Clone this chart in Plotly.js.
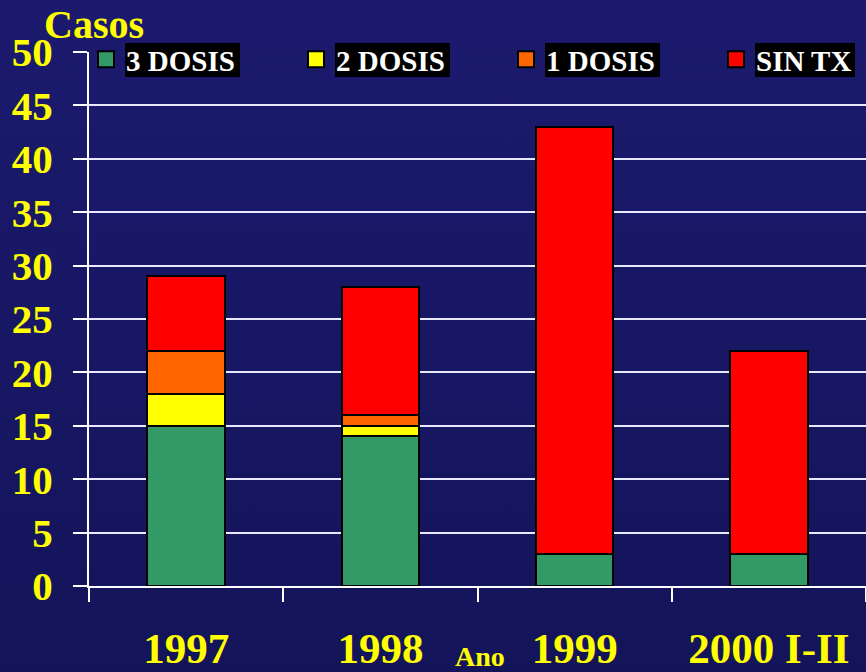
<!DOCTYPE html>
<html><head><meta charset="utf-8">
<script src="https://cdn.plot.ly/plotly-3.0.1.min.js"></script>
<style>
html,body{margin:0;padding:0;width:866px;height:672px;overflow:hidden;}
body{background:linear-gradient(to bottom,#1b1a6e,#14145a);}
#chart{width:866px;height:672px;}
</style></head><body><div id="chart"></div>
<script>
// ---- data ----
const categories = ['1997', '1998', '1999', '2000 I-II'];
const dosis3 = [15, 14, 3, 3];
const dosis2 = [3, 1, 0, 0];
const dosis1 = [4, 1, 0, 0];
const sinTx = [7, 12, 40, 19];
const seriesNames = ['3 DOSIS', '2 DOSIS', '1 DOSIS', 'SIN TX'];
const yTickVals = [0, 5, 10, 15, 20, 25, 30, 35, 40, 45, 50];
const gridVals = [5, 10, 15, 20, 25, 30, 35, 40, 45];
const yLabel = 'Casos';
const xLabel = 'Ano';

// ---- style ----
const colors = ['#339966', '#FFFF00', '#FF6600', '#FF0000'];
const FONT = '"Liberation Serif", "Times New Roman", serif';
const L = 89, R = 0, T = 52, B = 86, W = 866, H = 672;
const PW = W - L - R, PH = H - T - B;
const px2x = p => (p - L) / PW;
const px2y = p => (H - B - p) / PH;

const legendIds = ['legend', 'legend2', 'legend3', 'legend4'];
const legendSymbolX = [86, 296, 506, 716];

const series = [dosis3, dosis2, dosis1, sinTx];
const traces = series.map((vals, i) => ({
  type: 'bar', x: categories, y: vals, name: seriesNames[i],
  width: 0.4, showlegend: false,
  marker: {color: colors[i], line: {color: '#000000', width: 2}},
  hoverinfo: 'x+y+name'
}));
// legend entries (larger squares than bar legend symbols)
seriesNames.forEach((n, i) => traces.push({
  type: 'scatter', mode: 'markers', x: [null], y: [null], yaxis: 'y2',
  name: n, showlegend: true, legend: legendIds[i],
  marker: {symbol: 'square', size: 16, color: colors[i], line: {color: '#000000', width: 2}}
}));

// black boxes behind legend texts
const legendBoxes = [[125, 240], [335, 450], [545, 660], [755, 855]];
const shapes = legendBoxes.map(b => ({
  type: 'rect', xref: 'paper', yref: 'paper', layer: 'above',
  x0: px2x(b[0]), x1: px2x(b[1]), y0: px2y(77), y1: px2y(43),
  fillcolor: '#000000', line: {width: 0}
}));

const layout = {
  width: W, height: H,
  margin: {l: L, r: R, t: T, b: B, pad: 0, autoexpand: false},
  paper_bgcolor: 'rgba(0,0,0,0)', plot_bgcolor: 'rgba(0,0,0,0)',
  barmode: 'stack', bargap: 0.6,
  font: {family: FONT, color: '#FFFF00', size: 40, weight: 'bold'},
  showlegend: true,
  xaxis: {
    type: 'category', categoryorder: 'array', categoryarray: categories,
    range: [-0.5, 3.5], tickson: 'boundaries',
    ticks: 'outside', ticklen: 14, tickwidth: 2, tickcolor: '#FFFFFF',
    showline: true, linecolor: '#FFFFFF', linewidth: 2,
    showgrid: false, zeroline: false, fixedrange: true,
    tickfont: {family: FONT, size: 43, color: '#FFFF00', weight: 'bold'},
    ticklabelstandoff: 23
  },
  yaxis: {
    range: [0, 50], tickmode: 'array', tickvals: yTickVals,
    ticktext: yTickVals.map(String),
    ticks: 'outside', ticklen: 14, tickwidth: 2, tickcolor: '#FFFFFF',
    showline: true, linecolor: '#FFFFFF', linewidth: 2,
    showgrid: false, zeroline: false, fixedrange: true,
    tickfont: {family: FONT, size: 41, color: '#FFFF00', weight: 'bold'},
    ticklabelstandoff: 12
  },
  yaxis2: {
    overlaying: 'y', range: [0, 50], tickmode: 'array', tickvals: gridVals,
    showgrid: true, gridcolor: '#E8E8FF', gridwidth: 2,
    showticklabels: false, ticks: '', showline: false, zeroline: false,
    fixedrange: true
  },
  shapes: shapes,
  annotations: [
    {text: yLabel, xref: 'paper', yref: 'paper', x: px2x(42), y: px2y(24),
     xanchor: 'left', yanchor: 'middle', showarrow: false,
     font: {family: FONT, size: 40, color: '#FFFF00', weight: 'bold'}},
    {text: xLabel, xref: 'paper', yref: 'paper', x: px2x(480), y: px2y(656),
     xanchor: 'center', yanchor: 'middle', showarrow: false,
     font: {family: FONT, size: 28, color: '#FFFF00', weight: 'bold'}}
  ]
};

legendIds.forEach((id, i) => {
  layout[id] = {
    orientation: 'h', xref: 'container', yref: 'container',
    x: legendSymbolX[i] / W, xanchor: 'left', y: 1 - 59.5 / H, yanchor: 'middle',
    bgcolor: 'rgba(0,0,0,0)', borderwidth: 0, itemclick: false,
    font: {family: FONT, size: 29, color: '#FFFFFF', weight: 'bold'}
  };
});

Plotly.newPlot('chart', traces, layout, {displayModeBar: false, staticPlot: true});
</script></body></html>
